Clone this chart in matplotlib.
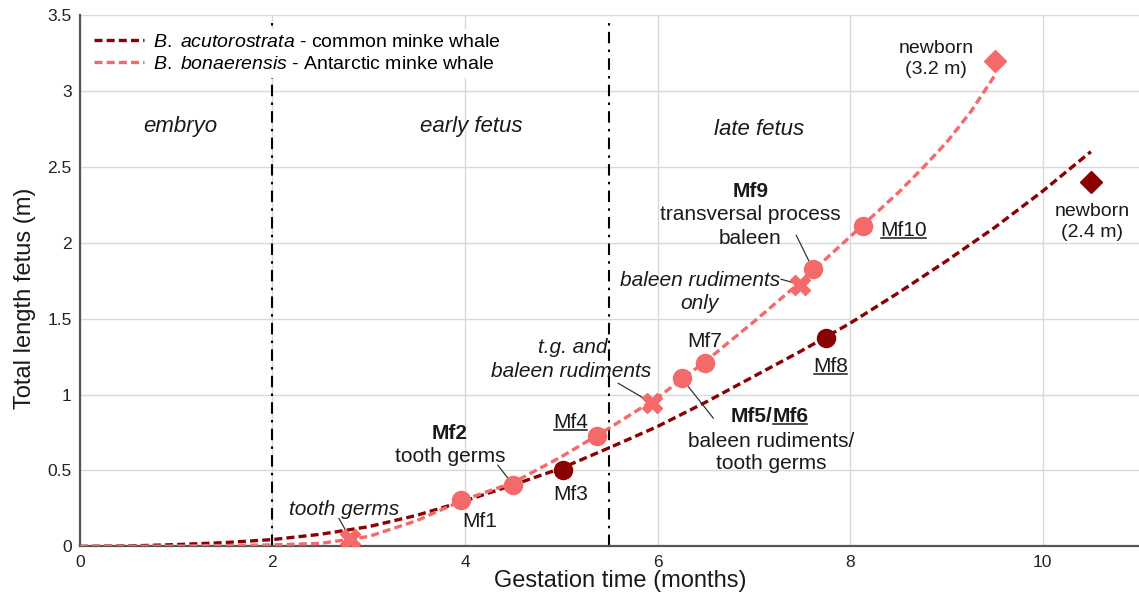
import numpy as np
import matplotlib.pyplot as plt
from matplotlib.lines import Line2D

plt.rcParams['font.family'] = ['Liberation Sans', 'DejaVu Sans']
plt.rcParams['mathtext.fontset'] = 'custom'
plt.rcParams['mathtext.rm'] = 'Liberation Sans'
plt.rcParams['mathtext.it'] = 'Liberation Sans:italic'

# growth curves: total length (m) over gestation time (months)
acuto_x = [0, 0.5, 1, 1.5, 2, 2.5, 3, 3.5, 4, 4.5, 5, 5.5, 6, 6.5, 7, 7.5, 8, 8.5, 9, 9.5, 10, 10.5]
acuto_y = [0, 0.003, 0.012, 0.025, 0.045, 0.08, 0.13, 0.205, 0.30, 0.405, 0.515, 0.65,
           0.79, 0.95, 1.12, 1.29, 1.47, 1.67, 1.88, 2.10, 2.34, 2.60]
bona_x = [0, 1, 2, 2.5, 3, 3.5, 4, 4.5, 5, 5.5, 6, 6.5, 7, 7.5, 8, 8.5, 8.75, 9, 9.25, 9.5]
bona_y = [0, 0.002, 0.01, 0.02, 0.065, 0.17, 0.31, 0.42, 0.59, 0.78, 0.98, 1.22,
          1.48, 1.75, 2.04, 2.33, 2.49, 2.66, 2.86, 3.10]

# specimens Mf1..Mf10
bona_mf_x = [3.96, 4.50, 5.37, 6.25, 6.49, 7.61, 8.13]   # Mf1, Mf2, Mf4, Mf5/6, Mf7, Mf9, Mf10
bona_mf_y = [0.306, 0.405, 0.727, 1.11, 1.21, 1.83, 2.11]
acuto_mf_x = [5.02, 7.75]   # Mf3, Mf8
acuto_mf_y = [0.50, 1.37]
# literature stages (tooth germs / rudiments) and newborn size
bona_lit_x = [2.81, 5.94, 7.48]
bona_lit_y = [0.05, 0.945, 1.725]
bona_newborn = (9.5, 3.2)
acuto_newborn = (10.5, 2.4)

stage_bounds = [2, 5.5]

DARK = '#8b0000'
LIGHT = '#f46a6a'
TXT = '#1a1a1a'

fig = plt.figure(figsize=(11.39, 5.96), dpi=100)
ax = fig.add_axes([0.0701, 0.0832, 0.9299, 0.8916])

ax.plot(acuto_x, acuto_y, color=DARK, lw=2.4, dashes=(2.4, 1.25), zorder=3,
        label=r'$\it{B.}$ $\it{acutorostrata}$ - common minke whale')
ax.plot(bona_x, bona_y, color=LIGHT, lw=2.4, dashes=(2.4, 1.25), zorder=3,
        label=r'$\it{B.}$ $\it{bonaerensis}$ - Antarctic minke whale')

ax.plot(bona_mf_x, bona_mf_y, 'o', color=LIGHT, ms=13, mec=LIGHT, zorder=5)
ax.plot(bona_lit_x, bona_lit_y, 'X', color=LIGHT, ms=15, mec=LIGHT, zorder=5)
ax.plot(*bona_newborn, 'D', color=LIGHT, ms=11, zorder=5)
ax.plot(acuto_mf_x, acuto_mf_y, 'o', color=DARK, ms=13, zorder=5)
ax.plot(*acuto_newborn, 'D', color=DARK, ms=11, zorder=5)

for xb in stage_bounds:
    ax.plot([xb, xb], [0, 3.46], color='black', lw=1.5, ls=(0, (5.5, 3, 1.2, 3)), zorder=2)

ax.set_xlim(0, 11)
ax.set_ylim(0, 3.5)
ax.set_xticks([0, 2, 4, 6, 8, 10])
ax.set_yticks(np.arange(0, 3.51, 0.5))
ax.set_yticklabels(['0', '0.5', '1', '1.5', '2', '2.5', '3', '3.5'])
ax.tick_params(length=0, labelsize=12.5, pad=6, colors='#222222')
ax.grid(color='#d9d9d9', lw=1)
ax.set_axisbelow(True)
for s in ['top', 'right']:
    ax.spines[s].set_visible(False)
for s in ['left', 'bottom']:
    ax.spines[s].set_color('#555555')
    ax.spines[s].set_linewidth(1.6)

ax.set_xlabel('Gestation time (months)', fontsize=17, color=TXT)
ax.set_ylabel('Total length fetus (m)', fontsize=17, color=TXT)
ax.xaxis.set_label_coords(0.51, -0.045)
ax.yaxis.set_label_coords(-0.041, 0.466)

leg = ax.legend(loc='upper left', frameon=True, facecolor='white', edgecolor='none',
                framealpha=1, fancybox=False, fontsize=14, handlelength=2.6,
                handletextpad=0.45, labelspacing=0.2, borderpad=0.25,
                borderaxespad=0.3, bbox_to_anchor=(0.003, 0.985))
leg.set_zorder(7)


def txt(x, y, s, size=15, **kw):
    return ax.text(x, y, s, ha=kw.pop('ha', 'center'), va='center', fontsize=size,
                   color=TXT, zorder=6, **kw)


# developmental stages
txt(1.04, 2.763, 'embryo', size=16, style='italic')
txt(4.07, 2.763, 'early fetus', size=16, style='italic')
txt(7.05, 2.748, 'late fetus', size=16, style='italic')

txt(8.89, 3.281, 'newborn', size=14)
txt(8.89, 3.143, '(3.2 m)', size=14)
txt(10.51, 2.205, 'newborn', size=14)
txt(10.51, 2.067, '(2.4 m)', size=14)

txt(6.965, 2.335, 'Mf9', weight='bold')
txt(6.965, 2.183, 'transversal process')
txt(6.965, 2.025, 'baleen')
mf10 = txt(8.554, 2.084, 'Mf10')

txt(6.437, 1.750, 'baleen rudiments', style='italic')
txt(6.437, 1.601, 'only', style='italic')
txt(6.489, 1.349, 'Mf7')
txt(5.119, 1.312, 't.g. and', style='italic')
txt(5.107, 1.151, 'baleen rudiments', style='italic')

txt(7.19, 0.854, 'Mf5/', weight='bold', ha='right')
mf6 = txt(7.19, 0.854, 'Mf6', weight='bold', ha='left')
txt(7.176, 0.690, 'baleen rudiments/')
txt(7.176, 0.547, 'tooth germs')
mf8 = txt(7.80, 1.188, 'Mf8')
mf4 = txt(5.10, 0.815, 'Mf4')
txt(3.845, 0.745, 'Mf2', weight='bold')
txt(3.845, 0.591, 'tooth germs')
txt(5.094, 0.339, 'Mf3')
txt(4.157, 0.163, 'Mf1')
txt(2.742, 0.246, 'tooth germs', style='italic')

# leader lines from labels to the specimens
leaders = [
    ((2.69, 0.185), (bona_lit_x[0], bona_lit_y[0])),
    ((4.34, 0.536), (bona_mf_x[1], bona_mf_y[1])),
    ((5.59, 1.075), (bona_lit_x[1], bona_lit_y[1])),
    ((6.32, 1.052), (6.58, 0.844)),
    ((7.28, 1.76), (bona_lit_x[2], bona_lit_y[2])),
    ((7.44, 2.05), (bona_mf_x[5], bona_mf_y[5])),
]
for start, end in leaders:
    ax.annotate('', xy=end, xytext=start, zorder=4,
                arrowprops=dict(arrowstyle='-', color='#333333', lw=0.9,
                                shrinkA=0, shrinkB=0))

# underline the specimen labels
fig.canvas.draw()
renderer = fig.canvas.get_renderer()
inv = fig.transFigure.inverted()
for t in [mf4, mf6, mf8, mf10]:
    bb = t.get_window_extent(renderer)
    yb = bb.y0 + 0.1 * bb.height
    (fx0, fy), (fx1, _) = inv.transform([(bb.x0 + 1, yb), (bb.x1 - 1, yb)])
    fig.add_artist(Line2D([fx0, fx1], [fy, fy], color=TXT, lw=1.1,
                          transform=fig.transFigure))

fig.savefig('out.png', dpi=100)
